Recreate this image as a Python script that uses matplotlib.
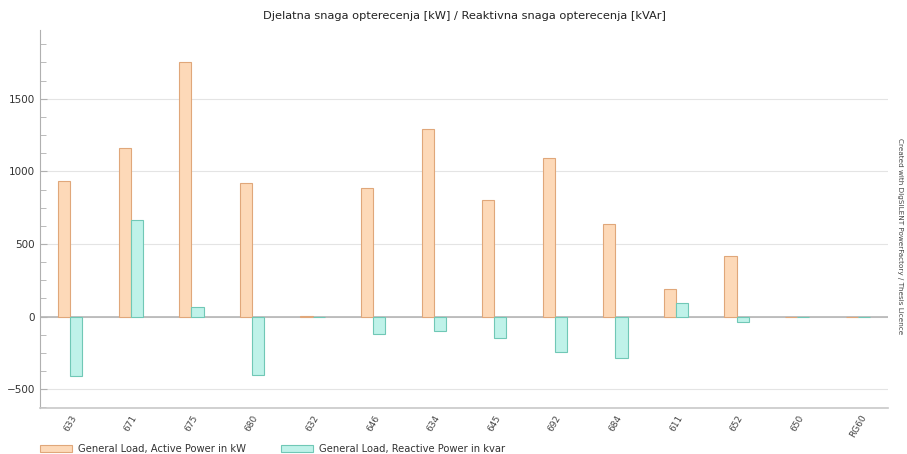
import numpy as np
import matplotlib.pyplot as plt
from matplotlib.ticker import MultipleLocator

# Knoten / Lasten
nodes = ['633', '671', '675', '680', '632', '646', '634', '645', '692', '684', '611', '652', '650', 'RG60']
active_kw = [936, 1160, 1755, 920, 3, 888, 1294, 800, 1094, 639, 188, 416, 0, 0]
reactive_kvar = [-409, 665, 65, -402, -2, -119, -100, -151, -244, -283, 90, -39, 0, 0]

title = 'Djelatna snaga opterecenja [kW] / Reaktivna snaga opterecenja [kVAr]'
label_p = 'General Load, Active Power in kW'
label_q = 'General Load, Reactive Power in kvar'

fig = plt.figure(figsize=(9.07, 4.54), dpi=100)
ax = fig.add_axes([0.0441, 0.1013, 0.935, 0.833])

x = np.arange(len(nodes))
w = 0.2
ax.bar(x - w / 2, active_kw, width=w, color='#fdd9b8', edgecolor='#e0a77a',
       linewidth=0.8, label=label_p, zorder=3)
ax.bar(x + w / 2, reactive_kvar, width=w, color='#bff2e9', edgecolor='#70c8b6',
       linewidth=0.8, label=label_q, zorder=3)

ax.set_xlim(-0.5, len(nodes) - 0.5)
ax.set_ylim(-630, 1975)
ax.yaxis.set_major_locator(MultipleLocator(500))
ax.yaxis.set_minor_locator(MultipleLocator(125))
ax.grid(axis='y', which='major', color='#e4e4e4', linewidth=0.8, zorder=0)
ax.axhline(0, color='#b5b5b5', linewidth=1.2, zorder=2)

for s in ['top', 'right']:
    ax.spines[s].set_visible(False)
ax.spines['left'].set_color('#b0b0b0')
ax.spines['bottom'].set_color('#c8c8c8')
ax.spines['bottom'].set_linewidth(1.2)

ax.tick_params(axis='y', which='both', direction='in', colors='#b0b0b0',
               labelcolor='#333333', labelsize=7.5)
ax.tick_params(axis='y', which='major', length=5)
ax.tick_params(axis='y', which='minor', length=4)
ax.tick_params(axis='x', length=0, labelsize=6.5, labelcolor='#444444', pad=4)
ax.set_xticks(x)
ax.set_xticklabels(nodes, rotation=60, ha='center', va='top')

ax.set_title(title, fontsize=8.2, color='#222222', pad=8)

fig.legend(loc='lower left', bbox_to_anchor=(0.0441, 0.0), ncol=2, frameon=False,
           fontsize=7.2, handlelength=3.2, handleheight=0.6, handletextpad=0.6,
           columnspacing=3.5, borderpad=0, borderaxespad=0, labelcolor='#333333')

fig.text(0.992, 0.48, 'Created with DIgSILENT PowerFactory / Thesis Licence',
         rotation=270, fontsize=5.2, color='#444444', ha='center', va='center')

plt.savefig('out.png', dpi=100)
